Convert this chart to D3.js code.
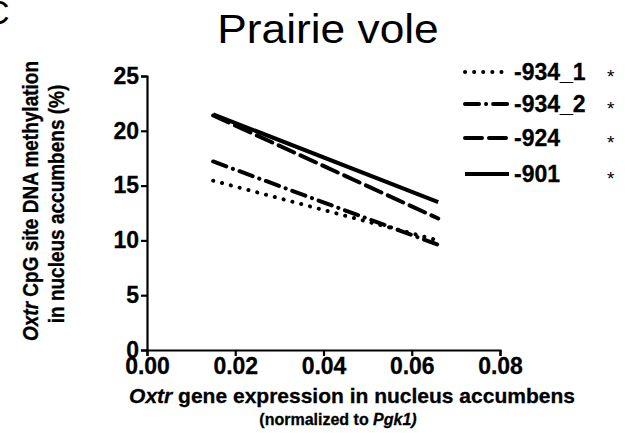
<!DOCTYPE html>
<html>
<meta charset="utf-8">
<title>Prairie vole</title>
<style>
    body { margin: 0; background: #fff; }
    svg { font-family: "Liberation Sans", Arial, sans-serif; }
    .axis path, .axis line { stroke: #000; stroke-width: 2.2px; }
    .axis text { font-size: 23px; font-weight: bold; fill: #000; stroke: #000; stroke-width: 0.3px; }
    .bold { font-weight: bold; stroke: #000; stroke-width: 0.3px; }
    .line { fill: none; stroke: #000; stroke-width: 4px; }
</style>
<script src="https://cdn.jsdelivr.net/npm/d3@7"></script>
<body>
<script>
    // values
    const seriesNames = ["-934_1", "-934_2", "-924", "-901"]
    const xStart = [0.015, 0.015, 0.015, 0.015]
    const xEnd = [0.066, 0.066, 0.066, 0.066]
    const yStart = [15.45, 17.2, 21.4, 21.5]
    const yEnd = [10.0, 9.6, 12.0, 13.5]
    const xTicks = [0, 0.02, 0.04, 0.06, 0.08]
    const yTicks = [0, 5, 10, 15, 20, 25]

    const dashes = ["0.1 9", "14 7 0.1 7", "17 7", null]

    const svg = d3.select("body").append("svg")
        .attr("width", 625).attr("height", 433)

    const x = d3.scaleLinear().domain([0, 0.08]).range([147, 500])
    const y = d3.scaleLinear().domain([0, 25]).range([350, 76])

    svg.append("g").attr("class", "axis")
        .attr("transform", "translate(0,350)")
        .call(d3.axisBottom(x).tickValues(xTicks).tickFormat(d3.format(".2f"))
            .tickSize(6).tickSizeOuter(6).tickPadding(2))

    svg.append("g").attr("class", "axis")
        .attr("transform", "translate(147,0)")
        .call(d3.axisLeft(y).tickValues(yTicks).tickSize(6).tickSizeOuter(6).tickPadding(2))

    const line = d3.line().x(d => x(d[0])).y(d => y(d[1]))
    const data = seriesNames.map((n, i) => ({
        name: n, dash: dashes[i],
        pts: [[xStart[i], yStart[i]], [xEnd[i], yEnd[i]]]
    }))

    svg.selectAll(".line").data(data).enter().append("path")
        .attr("class", "line")
        .attr("d", d => line(d.pts))
        .attr("stroke-dasharray", d => d.dash)
        .attr("stroke-linecap", d => d.dash ? "round" : "butt")

    // legend
    const legendY = [72, 104, 138, 174]
    const leg = svg.selectAll(".leg").data(data).enter().append("g")
        .attr("class", "leg")
        .attr("transform", (d, i) => `translate(0,${legendY[i]})`)
    leg.append("line")
        .attr("class", "line")
        .attr("x1", 465).attr("x2", 509).attr("y1", 0).attr("y2", 0)
        .attr("stroke-dasharray", d => d.dash)
        .attr("stroke-linecap", d => d.dash ? "round" : "butt")
    leg.append("text")
        .attr("class", "bold")
        .attr("x", 514).attr("y", 8)
        .style("font-size", "23px")
        .text(d => d.name)
    leg.append("text")
        .attr("x", 607).attr("y", 11)
        .style("font-size", "19px")
        .text("*")

    // titles
    svg.append("text").attr("transform", "translate(328,43) scale(1.08,1)")
        .attr("text-anchor", "middle").style("font-size", "41px")
        .text("Prairie vole")
    svg.append("text").attr("x", -15).attr("y", 24)
        .style("font-size", "34px").text("C")

    const xl = svg.append("text").attr("class", "bold")
        .attr("x", 352).attr("y", 403)
        .attr("text-anchor", "middle")
        .style("font-size", "21px")
    xl.append("tspan").style("font-style", "italic").text("Oxtr")
    xl.append("tspan").text(" gene expression in nucleus accumbens")

    const xl2 = svg.append("text").attr("class", "bold")
        .attr("x", 338).attr("y", 425)
        .attr("text-anchor", "middle")
        .style("font-size", "16px")
    xl2.append("tspan").text("(normalized to ")
    xl2.append("tspan").style("font-style", "italic").text("Pgk1)")

    const yl = svg.append("text").attr("class", "bold")
        .attr("transform", "translate(38,201) scale(1.15,1) rotate(-90)")
        .attr("text-anchor", "middle")
        .style("font-size", "19px")
    yl.append("tspan").style("font-style", "italic").text("Oxtr")
    yl.append("tspan").text(" CpG site DNA methylation")
    svg.append("text").attr("class", "bold")
        .attr("transform", "translate(64,204) scale(1.15,1) rotate(-90)")
        .attr("text-anchor", "middle")
        .style("font-size", "19px")
        .text("in nucleus accumbens (%)")
</script>
</body>
</html>
